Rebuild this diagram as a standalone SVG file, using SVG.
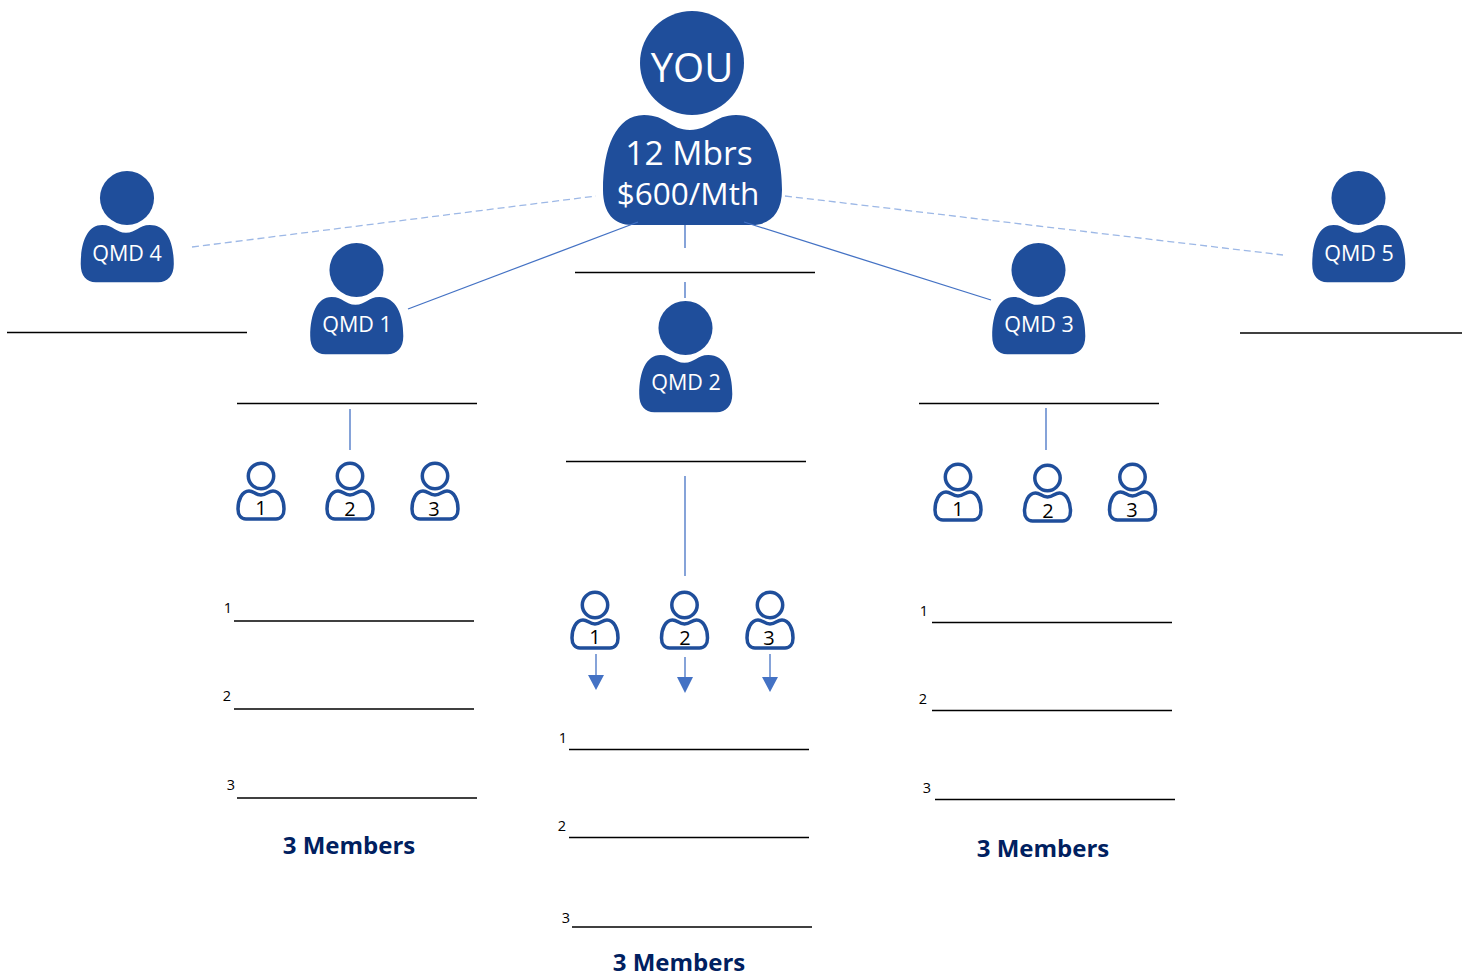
<svg xmlns="http://www.w3.org/2000/svg" xmlns:xlink="http://www.w3.org/1999/xlink" width="1462" height="978" viewBox="0 0 1462 978">
<style>
text{font-family:"Open Sans","Noto Sans","Liberation Sans",sans-serif;text-anchor:middle}
.w{fill:#fff}
.n{fill:#000;font-size:20px}
.s{fill:#000;font-size:14.500px}
.m{fill:#002060;font-size:24px;font-weight:700}
.q{font-size:21.500px}
.u{stroke:#000;stroke-width:1.3;fill:none}
.c{stroke:#4472c4;stroke-width:1.300;fill:none}
.d{stroke:#9db8e6;stroke-width:1.300;stroke-dasharray:7 4;fill:none}
.o{fill:#fff;stroke:#1f4e9b;stroke-width:3.500}
.a{fill:#4472c4;stroke:none}
</style>
<defs>
<g id="person"><circle cx="0" cy="0" r="52" fill="#1f4e9b"/><path fill="#1f4e9b" d="M-48,52 C-25,52 -22,67 -2,67 C18,67 22,52 44,52 C76,52 90,85 90,127 C90,150 78,162 60,162 L-60,162 C-78,162 -89,150 -89,127 C-89,85 -76,52 -48,52Z"/></g>
<g id="member"><circle class="o" cx="0" cy="0" r="12.7"/><path class="o" d="M-12,15 C-7,15 -6,19 0,19 C6,19 7,15 12,15 C19,15 23,24 23,33 C23,39 20,43 15,43 L-15,43 C-20,43 -23,39 -23,33 C-23,24 -19,15 -12,15Z"/></g>
</defs>
<g id="you"><use xlink:href="#person" href="#person" transform="translate(692,63)"/>
<text class="w" x="692" y="82" style="font-size:40px">YOU</text>
<text class="w" x="689" y="165" style="font-size:33.500px">12 Mbrs</text>
<text class="w" x="688" y="205" style="font-size:31.500px">$600/Mth</text></g>
<g id="qmd4"><use xlink:href="#person" href="#person" transform="translate(127,198) scale(.52)"/><text class="w q" x="127" y="261">QMD 4</text></g>
<g id="qmd1"><use xlink:href="#person" href="#person" transform="translate(356.500,270) scale(.52)"/><text class="w q" x="357" y="332">QMD 1</text></g>
<g id="qmd2"><use xlink:href="#person" href="#person" transform="translate(685.500,328) scale(.52)"/><text class="w q" x="686" y="390">QMD 2</text></g>
<g id="qmd3"><use xlink:href="#person" href="#person" transform="translate(1038.500,270) scale(.52)"/><text class="w q" x="1039" y="332">QMD 3</text></g>
<g id="qmd5"><use xlink:href="#person" href="#person" transform="translate(1358.500,198) scale(.52)"/><text class="w q" x="1359" y="261">QMD 5</text></g>
<g id="m1-1"><use xlink:href="#member" href="#member" transform="translate(261,476)"/><text class="n" x="261" y="515">1</text></g>
<g id="m1-2"><use xlink:href="#member" href="#member" transform="translate(350,476)"/><text class="n" x="350" y="516">2</text></g>
<g id="m1-3"><use xlink:href="#member" href="#member" transform="translate(435,476)"/><text class="n" x="434" y="516">3</text></g>
<g id="m2-1"><use xlink:href="#member" href="#member" transform="translate(595,605)"/><text class="n" x="595" y="644">1</text></g>
<g id="m2-2"><use xlink:href="#member" href="#member" transform="translate(684.500,605)"/><text class="n" x="685" y="645">2</text></g>
<g id="m2-3"><use xlink:href="#member" href="#member" transform="translate(770,605)"/><text class="n" x="769" y="645">3</text></g>
<g id="m3-1"><use xlink:href="#member" href="#member" transform="translate(958,477)"/><text class="n" x="958" y="516">1</text></g>
<g id="m3-2"><use xlink:href="#member" href="#member" transform="translate(1047.500,478)"/><text class="n" x="1048" y="518">2</text></g>
<g id="m3-3"><use xlink:href="#member" href="#member" transform="translate(1132.500,477)"/><text class="n" x="1132" y="517">3</text></g>
<g id="connectors">
<path class="d" d="M192,247 L596,196"/>
<path class="d" d="M785,196 L1283,255"/>
<path class="c" d="M638,222 L408,309"/>
<path class="c" d="M685,225 V248"/>
<path class="c" d="M685,282 V298"/>
<path class="c" d="M744,222 L991,300"/>
<path class="c" d="M350,409 V450"/>
<path class="c" d="M685,476 V576"/>
<path class="c" d="M1046,408 V450"/>
<path class="c" d="M596,654 V676"/>
<path class="a" d="M588,675 H604 L596,690Z"/>
<path class="c" d="M685,657 V678"/>
<path class="a" d="M677,677 H693 L685,693Z"/>
<path class="c" d="M770,654 V677"/>
<path class="a" d="M762,677 H778 L770,692Z"/>
</g>
<g id="rules">
<path class="u" d="M575,272.500 H815"/>
<path class="u" d="M7,332.500 H247"/>
<path class="u" d="M1240,333 H1462"/>
<path class="u" d="M237,403.500 H477"/>
<path class="u" d="M919,403.500 H1159"/>
<path class="u" d="M566,461.500 H806"/>
<path class="u" d="M234,621 H474"/>
<path class="u" d="M234,709 H474"/>
<path class="u" d="M237,798 H477"/>
<path class="u" d="M932,622.500 H1172"/>
<path class="u" d="M932,710.500 H1172"/>
<path class="u" d="M935,799.500 H1175"/>
<path class="u" d="M569,749.500 H809"/>
<path class="u" d="M569,837.500 H809"/>
<path class="u" d="M572,927 H812"/>
</g>
<g id="labels">
<text class="s" x="228" y="613">1</text><text class="s" x="227" y="701">2</text><text class="s" x="231" y="790">3</text>
<text class="s" x="924" y="616">1</text><text class="s" x="923" y="704">2</text><text class="s" x="927" y="793">3</text>
<text class="s" x="563" y="743">1</text><text class="s" x="562" y="831">2</text><text class="s" x="566" y="923">3</text>
<text class="m" x="349" y="854">3 Members</text>
<text class="m" x="1043" y="857">3 Members</text>
<text class="m" x="679" y="971">3 Members</text>
</g>
</svg>
